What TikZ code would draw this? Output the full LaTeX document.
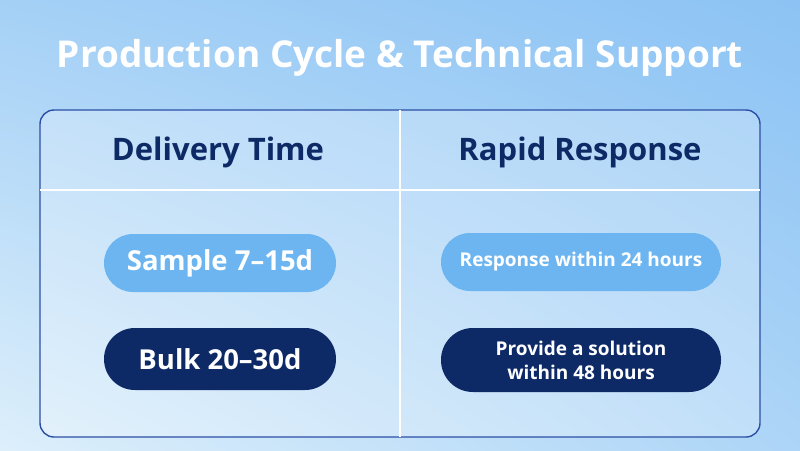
\documentclass[tikz,border=0pt]{standalone}
\usepackage{fontspec}
\setmainfont{Open Sans}
\usetikzlibrary{shadings}
\definecolor{navy}{HTML}{0E2A66}
\definecolor{pillb}{HTML}{6DB5F0}
\definecolor{frame}{HTML}{2C4FA6}
\definecolor{bgA}{HTML}{8CC3F4}
\definecolor{bgB}{HTML}{DDEFFB}
\begin{document}
\begin{tikzpicture}[x=1pt,y=-1pt,
  pill/.style={minimum width=#1,align=center,inner sep=0pt},
  light/.style={fill=pillb,text=white},
  dark/.style={fill=navy,text=white},
  head/.style={text=navy,font=\fontsize{31}{36}\selectfont\bfseries}]
\useasboundingbox (0,0) rectangle (800,450);
\shade[upper right=bgA,upper left=bgA!70!bgB,lower left=bgB,lower right=bgA!60!bgB] (0,0) rectangle (800,450);
\node[text=white,font=\fontsize{37}{44}\selectfont\bfseries] (title) at (400,58) {Production Cycle \& Technical Support};
\draw[frame,line width=1.4pt,fill=white,fill opacity=0.25,rounded corners=14pt] (40,110) rectangle (760,437);
\coordinate (t) at (400,110); \coordinate (b) at (400,437);
\coordinate (l) at (40,190); \coordinate (r) at (760,190);
\draw[white,line width=1.2pt] (t) -- (b);
\draw[white,line width=1.2pt] (l) -- (r);
\node[head] (h1) at (218,152) {Delivery Time};
\node[head] (h2) at (580,152) {Rapid Response};
\node[pill=232pt,light,rounded corners=28.9pt,minimum height=58pt,font=\fontsize{27.5}{32}\selectfont\bfseries] (s) at (220,263) {Sample 7–15d};
\node[pill=232pt,dark,rounded corners=30.9pt,minimum height=62pt,font=\fontsize{27.5}{32}\selectfont\bfseries] (bk) at (220,359) {Bulk 20–30d};
\node[pill=280pt,light,rounded corners=28.9pt,minimum height=58pt,font=\fontsize{19}{23}\selectfont\bfseries] (r1) at (581,262) {Response within 24 hours};
\node[pill=280pt,dark,rounded corners=31.9pt,minimum height=64pt,font=\fontsize{19}{24}\selectfont\bfseries] (r2) at (581,360) {Provide a solution\\within 48 hours};
\end{tikzpicture}
\end{document}
